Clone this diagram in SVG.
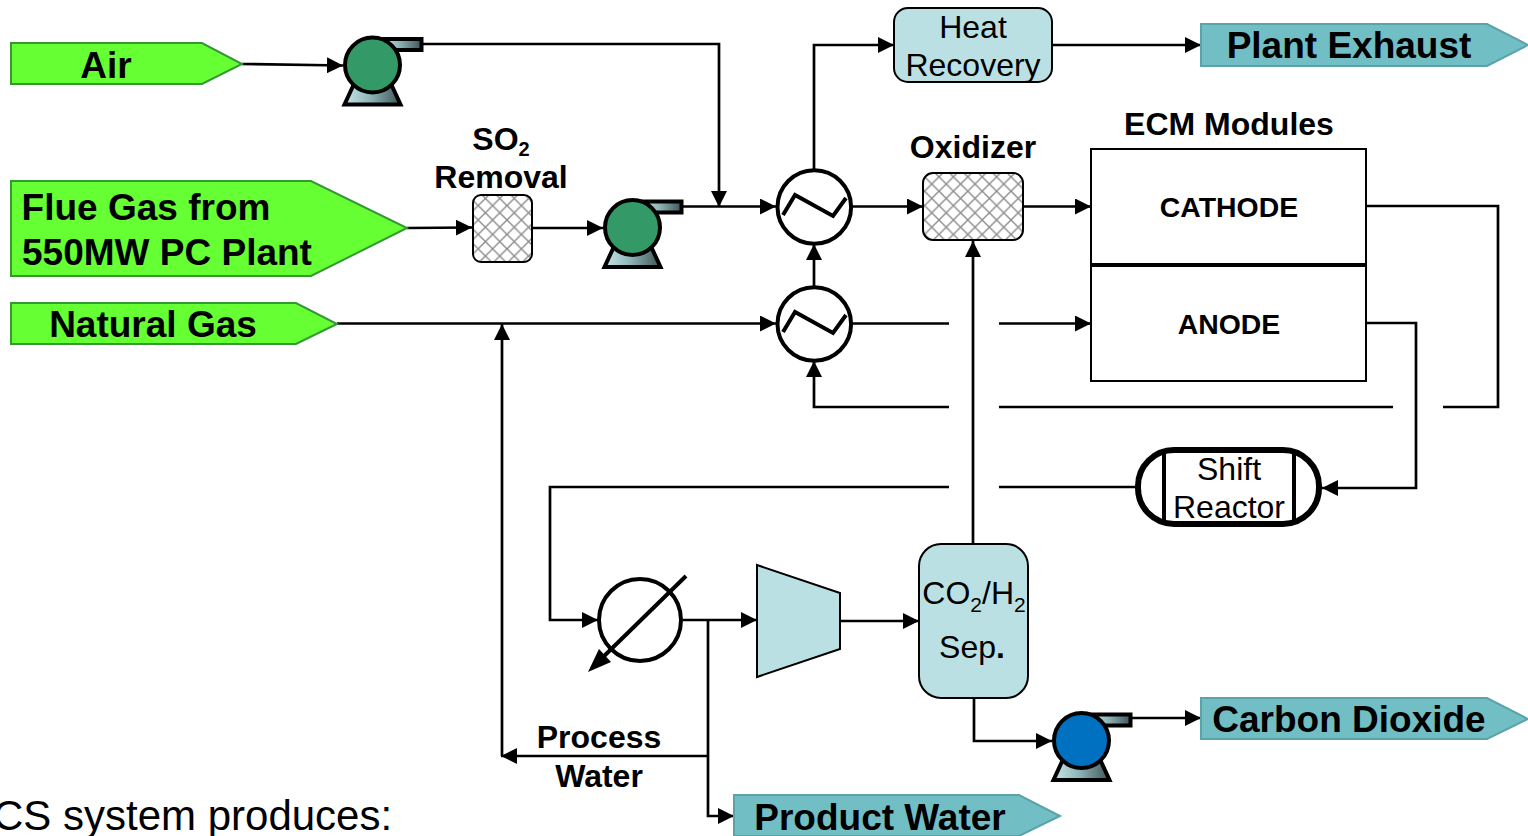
<svg xmlns="http://www.w3.org/2000/svg" width="1528" height="836" viewBox="0 0 1528 836">
<style>
text{font-family:"Liberation Sans",Arial,sans-serif;fill:#000;text-anchor:middle}
.b{font-weight:bold}
.t37{font-size:37px}.t32{font-size:32px}
.in{fill:#66ff33;stroke:#339933;stroke-width:2}
.out{fill:#72bec5;stroke:#5aa3a9;stroke-width:2}
.box{fill:#bbe0e3;stroke:#000;stroke-width:2}
.con path{fill:none;stroke:#000;stroke-width:2.7}
.hx{fill:#fff;stroke:#000;stroke-width:4}
.zig{fill:none;stroke:#000;stroke-width:4}
.pb{stroke:#000;stroke-width:4;fill:url(#metal)}
.mesh{fill:url(#cross);stroke:#000;stroke-width:2}
.ecm{fill:#fff;stroke:#000;stroke-width:2}
</style>
<defs>
<marker id="a" markerUnits="userSpaceOnUse" markerWidth="17" markerHeight="16" refX="16" refY="8" orient="auto"><path d="M0 0L16 8L0 16Z" fill="#000"/></marker>
<linearGradient id="metal"><stop offset="0" stop-color="#c4e6e8"/><stop offset=".45" stop-color="#90b5b9"/><stop offset="1" stop-color="#3f5557"/></linearGradient>
<pattern id="cross" width="14.400" height="14.400" patternUnits="userSpaceOnUse" patternTransform="translate(3 4)"><rect width="14.400" height="14.400" fill="#fff"/><path d="M0 0L14.400 14.400M14.400 0L0 14.400" stroke="#8c8c8c" stroke-width="1.400"/></pattern>
<g id="pump"><path class="pb" d="M8 -26H49V-15H8Z"/><path class="pb" d="M-19 20L-28 39.500H28L19 20Z"/></g>
</defs>

<g class="con">
<path d="M242 64L343 65.500" marker-end="url(#a)"/>
<path d="M422 44H719V207" marker-end="url(#a)"/>
<path d="M407 228L472 227.500" marker-end="url(#a)"/>
<path d="M532 228H603" marker-end="url(#a)"/>
<path d="M682 206.500H776" marker-end="url(#a)"/>
<path d="M814 170V45H894" marker-end="url(#a)"/>
<path d="M1052 45H1201" marker-end="url(#a)"/>
<path d="M852 206.500H923" marker-end="url(#a)"/>
<path d="M1023 206.500H1091" marker-end="url(#a)"/>
<path d="M814 286V244" marker-end="url(#a)"/>
<path d="M337 323.500H776" marker-end="url(#a)"/>
<path d="M852 323.500H949"/>
<path d="M999 323.500H1091" marker-end="url(#a)"/>
<path d="M1366 206H1498V407H1443"/>
<path d="M1393 407H999"/>
<path d="M949 407H814V361" marker-end="url(#a)"/>
<path d="M1366 323H1416V488H1322" marker-end="url(#a)"/>
<path d="M1138 487H999"/>
<path d="M949 487H550V620H598" marker-end="url(#a)"/>
<path d="M973 544V241" marker-end="url(#a)"/>
<path d="M683 620H757" marker-end="url(#a)"/>
<path d="M840 621H919" marker-end="url(#a)"/>
<path d="M708 620V816H734" marker-end="url(#a)"/>
<path d="M708 756H501" marker-end="url(#a)"/>
<path d="M502 756V324" marker-end="url(#a)"/>
<path d="M974 698V741H1052" marker-end="url(#a)"/>
<path d="M1131 718H1201" marker-end="url(#a)"/>
</g>

<g id="air"><path class="in" d="M11 43H202L242 64L202 84H11Z"/><text class="b t37" x="106" y="78">Air</text></g>
<g id="flue-gas"><path class="in" d="M11 181H311L407 228L311 276H11Z"/><text class="b t37" x="146" y="220">Flue Gas from</text><text class="b t37" x="167" y="265">550MW PC Plant</text></g>
<g id="natural-gas"><path class="in" d="M11 303H296L337 324L296 344H11Z"/><text class="b t37" x="153" y="337">Natural Gas</text></g>

<g id="pump-air"><use href="#pump" x="372.500" y="65"/><circle cx="372.500" cy="65" r="27.500" fill="#339966" stroke="#000" stroke-width="4"/></g>
<g id="pump-flue"><use href="#pump" x="632.500" y="227.500"/><circle cx="632.500" cy="227.500" r="27.500" fill="#339966" stroke="#000" stroke-width="4"/></g>
<g id="pump-co2"><use href="#pump" x="1081.500" y="740.500"/><circle cx="1081.500" cy="740.500" r="27.500" fill="#0070c0" stroke="#000" stroke-width="4"/></g>

<g id="so2-removal"><rect class="mesh" x="473" y="195" width="59" height="67" rx="8"/><text class="b t32" x="501" y="150"><tspan>SO</tspan><tspan font-size="20" dy="6">2</tspan></text><text class="b t32" x="501" y="188">Removal</text></g>

<g id="hx-top"><circle class="hx" cx="814.300" cy="207" r="36.800"/><path class="zig" d="M783 215L795 195L833 216L846 198"/></g>
<g id="hx-bottom"><circle class="hx" cx="814.300" cy="324" r="36.800"/><path class="zig" d="M783 332L795 312L833 333L846 315"/></g>

<g id="heat-recovery"><rect class="box" x="894" y="8" width="158" height="74" rx="14"/><text class="t32" x="973" y="38">Heat</text><text class="t32" x="973" y="76">Recovery</text></g>
<g id="plant-exhaust"><path class="out" d="M1201 24H1487L1528 45L1487 66H1201Z"/><text class="b t37" x="1349" y="58">Plant Exhaust</text></g>

<g id="oxidizer"><rect class="mesh" x="923" y="173" width="100" height="67" rx="10"/><text class="b t32" x="973" y="158">Oxidizer</text></g>

<g id="ecm"><text class="b t32" x="1229" y="135">ECM Modules</text></g>
<g id="cathode"><rect class="ecm" x="1091" y="149" width="275" height="115"/><text class="b" font-size="28.400" x="1229" y="217">CATHODE</text></g>
<g id="anode"><rect class="ecm" x="1091" y="266" width="275" height="115"/><text class="b" font-size="28.400" x="1229" y="334">ANODE</text></g>

<g id="shift-reactor"><rect x="1138" y="450" width="181" height="74" rx="36" fill="#fff" stroke="#000" stroke-width="6"/><path d="M1164 450V524M1294 450V524" stroke="#000" stroke-width="4" fill="none"/><text class="t32" x="1229" y="480">Shift</text><text class="t32" x="1229" y="518">Reactor</text></g>

<g id="condenser"><circle cx="640" cy="620" r="41" fill="#fff" stroke="#000" stroke-width="4"/><path d="M686 576L598 662" stroke="#000" stroke-width="4"/><path d="M588 672L599 649L611 662Z" fill="#000"/></g>
<g id="compressor"><path d="M757 565L840 593V649L757 677Z" fill="#bbe0e3" stroke="#000" stroke-width="2"/></g>
<g id="separator"><rect class="box" x="919" y="544" width="109" height="154" rx="22"/><text class="t32" x="974" y="604"><tspan>CO</tspan><tspan font-size="21" dy="8">2</tspan><tspan dy="-8">/H</tspan><tspan font-size="21" dy="8">2</tspan></text><text class="t32" x="972" y="658">Sep<tspan class="b">.</tspan></text></g>

<g id="carbon-dioxide"><path class="out" d="M1201 698H1487L1528 719L1487 739H1201Z"/><text class="b t37" x="1349" y="732">Carbon Dioxide</text></g>
<g id="product-water"><path class="out" d="M734 795H1019L1060 816L1019 836H734Z"/><text class="b t37" x="880" y="830">Product Water</text></g>
<g id="process-water"><text class="b t32" x="599" y="748">Process</text><text class="b t32" x="599" y="787">Water</text></g>
<text font-size="42" x="-7" y="830" style="text-anchor:start">CS system produces:</text>
</svg>
